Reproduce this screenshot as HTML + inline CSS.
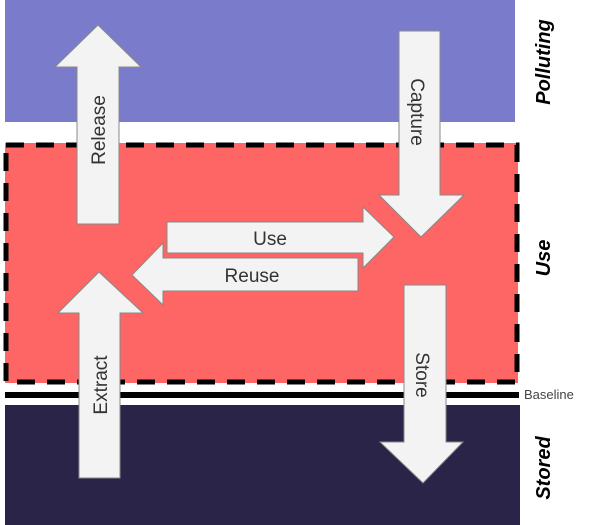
<!DOCTYPE html>
<html><head><meta charset="utf-8"><style>
html,body{margin:0;padding:0;background:#fff;}
svg{display:block;}
text{font-family:"Liberation Sans",sans-serif;}
</style></head><body>
<svg width="606" height="525" viewBox="0 0 606 525">
<rect x="5" y="0" width="510" height="122" fill="#7b7bcc"/>
<rect x="5" y="143" width="513" height="240" fill="#fe6565"/>
<rect x="6" y="145" width="511" height="237" fill="none" stroke="#000" stroke-width="5" stroke-dasharray="18,12"/>
<rect x="5" y="392" width="514" height="6" fill="#000"/>
<rect x="5" y="405" width="515" height="120" fill="#2a2448"/>
<text x="524" y="399" font-size="13" fill="#444">Baseline</text>
<g fill="#f3f3f3" stroke="#888" stroke-width="1">
<polygon points="77,224 119,224 119,67 141,67 98,25 55,67 77,67"/>
<polygon points="399,31 440,31 440,195 464,195 421,237 379,195 399,195"/>
<polygon points="167,222 363,222 363,207 394,237 363,268 363,253 167,253"/>
<polygon points="358,258 163,258 163,243 132,275 163,305 163,291 358,291"/>
<polygon points="79,478 120,478 120,313 143,313 99,272 58,313 79,313"/>
<polygon points="404,285 446,285 446,442 463,442 423,483 380,442 404,442"/>
</g>
<g font-size="19" fill="#333" text-anchor="middle">
<text transform="translate(105,130) rotate(-90)">Release</text>
<text transform="translate(411,112) rotate(90)">Capture</text>
<text x="270" y="245">Use</text>
<text x="252" y="282">Reuse</text>
<text transform="translate(107,385) rotate(-90)">Extract</text>
<text transform="translate(416,375) rotate(90)">Store</text>
</g>
<g font-size="20" font-weight="bold" font-style="italic" fill="#000" text-anchor="middle">
<text transform="translate(550,62) rotate(-90)">Polluting</text>
<text transform="translate(550,258) rotate(-90)">Use</text>
<text transform="translate(550,468) rotate(-90)">Stored</text>
</g>
</svg>
</body></html>
